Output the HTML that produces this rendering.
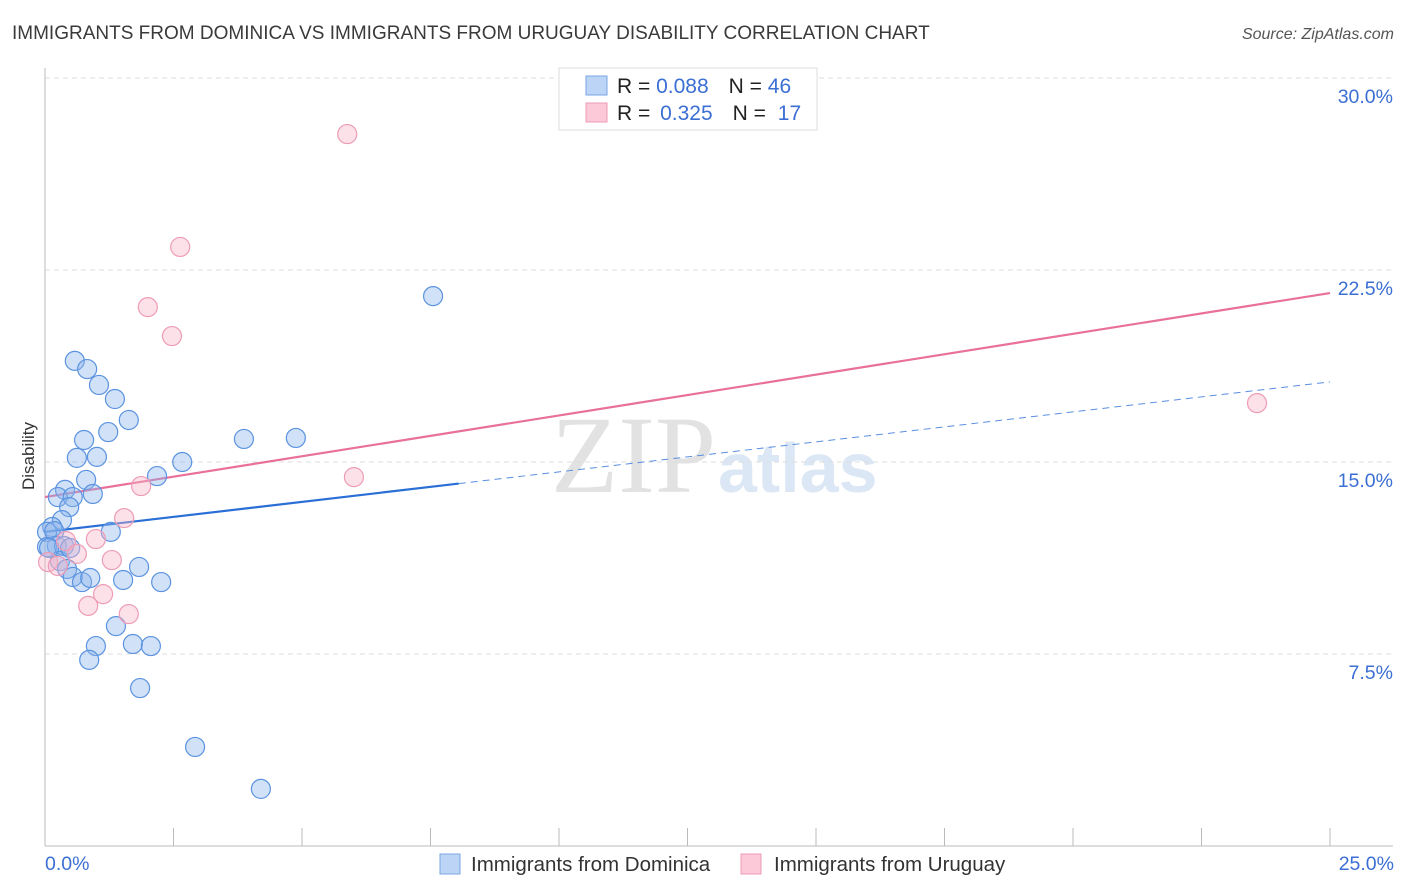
<!DOCTYPE html>
<html><head><meta charset="utf-8"><style>
body{margin:0;background:#fff;font-family:"Liberation Sans",sans-serif;}
#wrap{position:relative;width:1406px;height:892px;overflow:hidden;}
</style></head><body>
<div id="wrap">
<svg id="chart" width="1406" height="892" style="position:absolute;left:0;top:0">
<text x="12" y="39" font-size="19" fill="#3a3a3a">IMMIGRANTS FROM DOMINICA VS IMMIGRANTS FROM URUGUAY DISABILITY CORRELATION CHART</text>
<text x="1394" y="39" font-size="16" font-style="italic" fill="#555" text-anchor="end">Source: ZipAtlas.com</text>
<text x="716" y="492" font-size="110" font-family="Liberation Serif,serif" fill="#e2e2e2" text-anchor="end">ZIP</text>
<text x="718" y="492" font-size="70" font-weight="bold" fill="#dce7f5">atlas</text>
<g id="grid"></g>
<g id="axes"></g>
<g id="lines"></g>
<g id="pts"></g>
<text transform="translate(34,456) rotate(-90)" font-size="17" fill="#333" text-anchor="middle">Disability</text>
<text x="45" y="870" font-size="19.5" fill="#3b6fd4">0.0%</text>
<text x="1394" y="870" font-size="19.5" fill="#3b6fd4" text-anchor="end">25.0%</text>
<g>
<rect x="559" y="68" width="258" height="62" fill="#fff" stroke="#ddd"/>
<rect x="586" y="76" width="21" height="19" fill="#bcd4f5" stroke="#7aa6e6"/>
<rect x="586" y="103" width="21" height="19" fill="#fcc9d8" stroke="#ee9cb5"/>
<text x="617" y="93" font-size="21" fill="#222">R = <tspan fill="#3b6fd4">0.088</tspan><tspan dx="20" fill="#222">N = </tspan><tspan fill="#3b6fd4">46</tspan></text>
<text x="617" y="120" font-size="21" fill="#222">R = <tspan dx="4" fill="#3b6fd4">0.325</tspan><tspan dx="20" fill="#222">N = </tspan><tspan dx="6" fill="#3b6fd4">17</tspan></text>
</g>
<g>
<rect x="440" y="854" width="20" height="20" fill="#bcd4f5" stroke="#7aa6e6"/>
<text x="471" y="871" font-size="20.5" fill="#333">Immigrants from Dominica</text>
<rect x="741" y="854" width="20" height="20" fill="#fcc9d8" stroke="#ee9cb5"/>
<text x="774" y="871" font-size="20.5" fill="#333">Immigrants from Uruguay</text>
</g>
</svg>
</div>
<script>
const yTicks=[7.5,15,22.5,30];
const yTickLabels=["7.5%","15.0%","22.5%","30.0%"];
const xTicks=[2.5,5,7.5,10,12.5,15,17.5,20,22.5,25];
const dominicaX=[0.58,0.82,1.05,1.36,1.63,1.23,0.76,0.62,1.01,2.18,2.67,3.87,4.88,7.55,0.80,0.39,0.25,0.54,0.93,0.47,0.33,0.14,0.04,0.18,1.28,0.23,0.04,0.37,0.29,0.43,0.54,0.72,0.88,1.52,1.83,2.26,1.38,0.99,1.71,2.06,0.86,1.85,2.92,4.20,0.08,0.49];
const dominicaY=[18.95,18.63,18.01,17.46,16.64,16.17,15.86,15.16,15.20,14.45,15.0,15.90,15.94,21.48,14.30,13.91,13.63,13.63,13.75,13.24,12.73,12.46,12.27,12.30,12.27,11.72,11.68,11.72,11.13,10.82,10.51,10.31,10.47,10.39,10.90,10.31,8.59,7.81,7.89,7.81,7.27,6.17,3.87,2.23,11.64,11.64];
const uruguayX=[5.88,2.63,2.00,2.47,23.58,6.01,1.87,1.54,0.99,0.41,0.06,0.62,0.25,1.30,1.13,0.84,1.63];
const uruguayY=[27.81,23.40,21.05,19.92,17.30,14.41,14.06,12.81,11.99,11.91,11.09,11.41,10.94,11.17,9.84,9.38,9.06];
const dominicaTrend=[12.27,18.13];
const uruguayTrend=[13.63,21.6];
const dominicaSolidEnd=8.05;

const NS="http://www.w3.org/2000/svg";
const X=v=>45+v/25*1285;
const Y=v=>846-v/30*768;
function mk(tag,attrs,parent){const e=document.createElementNS(NS,tag);for(const k in attrs)e.setAttribute(k,attrs[k]);parent.appendChild(e);return e;}
const grid=document.getElementById('grid'),axes=document.getElementById('axes'),lines=document.getElementById('lines'),pts=document.getElementById('pts');
yTicks.forEach((t,i)=>{
 const l=mk('line',{x1:45,x2:1393,y1:Y(t),y2:Y(t),stroke:'#ddd','stroke-dasharray':'5,4'},grid);
 
 
 const tx=mk('text',{x:1393,y:Y(t)+25,'font-size':19.5,fill:'#3b6fd4','text-anchor':'end'},grid);
 tx.textContent=yTickLabels[i];
 
 
});
const ya=mk('line',{x1:45,x2:45,y1:68,y2:846,stroke:'#bbb'},axes);


const xa=mk('line',{x1:45,x2:1393,y1:846,y2:846,stroke:'#bbb'},axes);


xTicks.forEach(t=>{
 const l=mk('line',{x1:X(t),x2:X(t),y1:828,y2:846,stroke:'#bbb'},axes);
 
 
});
const tY=(tr,x)=>tr[0]+(tr[1]-tr[0])*x/25;
const bs=mk('line',{x1:X(0),y1:Y(dominicaTrend[0]),x2:X(dominicaSolidEnd),y2:Y(tY(dominicaTrend,dominicaSolidEnd)),stroke:'#2a6fd6','stroke-width':2.2},lines);


const bd=mk('line',{x1:X(dominicaSolidEnd),y1:Y(tY(dominicaTrend,dominicaSolidEnd)),x2:X(25),y2:Y(dominicaTrend[1]),stroke:'#5a8ee0','stroke-width':1,'stroke-dasharray':'7,5'},lines);


const pl=mk('line',{x1:X(0),y1:Y(uruguayTrend[0]),x2:X(25),y2:Y(uruguayTrend[1]),stroke:'#e8709a','stroke-width':2.2},lines);


dominicaX.forEach((x,i)=>{
 const c=mk('circle',{cx:X(x),cy:Y(dominicaY[i]),r:9.5,fill:'rgba(140,180,235,0.4)',stroke:'#5b93e0','stroke-width':1.2},pts);
 
 
});
uruguayX.forEach((x,i)=>{
 const c=mk('circle',{cx:X(x),cy:Y(uruguayY[i]),r:9.5,fill:'rgba(248,180,200,0.4)',stroke:'#ee9cb5','stroke-width':1.2},pts);
 
 
});
</script>
</body></html>
